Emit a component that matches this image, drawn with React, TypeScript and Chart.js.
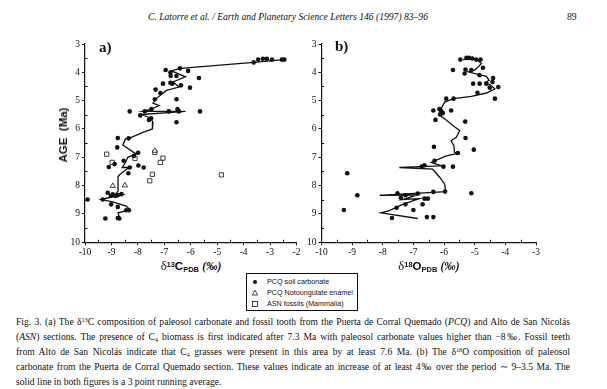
import React, { useEffect, useRef } from "react";
import { Chart, registerables } from "chart.js";

Chart.register(...registerables);

// ---------- Panel a: delta13C ----------
const C13_SOIL_X = [-3.62, -3.45, -3.27, -3.12, -2.93, -2.55, -2.46, -6.95, -6.77, -6.41, -6.10, -6.76, -6.54, -6.77, -6.70, -6.37, -7.05, -5.69, -6.03, -7.33, -7.15, -7.36, -6.54, -7.49, -8.31, -7.74, -6.83, -6.50, -6.45, -5.65, -7.91, -7.58, -7.50, -6.54, -8.76, -8.35, -8.78, -7.99, -8.15, -9.10, -8.88, -7.98, -7.78, -8.31, -8.36, -8.54, -9.14, -8.95, -8.76, -8.62, -9.02, -8.85, -9.90, -9.33, -9.01, -8.76, -8.44, -8.34, -9.23, -8.76, -8.70];
const C13_SOIL_AGE = [3.65, 3.55, 3.52, 3.52, 3.55, 3.55, 3.55, 3.92, 4.01, 3.86, 3.95, 4.13, 4.13, 4.37, 4.40, 4.46, 4.40, 4.20, 4.54, 4.61, 4.73, 4.95, 4.95, 5.30, 5.38, 5.38, 5.38, 5.30, 5.38, 5.38, 5.52, 5.68, 5.62, 5.76, 6.32, 6.33, 6.65, 6.84, 6.95, 7.34, 7.24, 7.29, 7.36, 7.36, 7.56, 7.12, 8.25, 8.31, 8.34, 8.30, 8.36, 8.36, 8.49, 8.49, 8.66, 8.75, 8.87, 8.87, 9.16, 9.14, 9.16];

const C13_ENAMEL_X = [-8.95, -8.49, -7.36];
const C13_ENAMEL_AGE = [8.01, 7.99, 6.77];

const C13_ASN_X = [-9.18, -8.97, -8.11, -7.36, -7.05, -7.15, -7.45, -7.55, -4.84];
const C13_ASN_AGE = [6.89, 7.18, 7.04, 6.83, 7.03, 7.18, 7.60, 7.83, 7.62];

const C13_AVG_X = [-2.48, -3.62, -6.39, -6.73, -6.20, -6.67, -6.44, -6.92, -7.28, -7.43, -7.20, -7.55, -7.81, -6.20, -7.87, -7.52, -7.43, -7.45, -7.81, -8.31, -8.47, -8.57, -8.06, -8.38, -8.47, -8.59, -8.29, -8.44, -8.67, -8.75, -8.75, -8.82, -8.57, -9.39, -8.95, -8.44, -8.29, -8.75, -8.69];
const C13_AVG_AGE = [3.55, 3.65, 3.86, 3.95, 4.16, 4.34, 4.52, 4.64, 4.91, 5.09, 5.17, 5.32, 5.38, 5.38, 5.49, 5.61, 5.76, 6.00, 6.12, 6.32, 6.35, 6.57, 6.89, 7.00, 7.18, 7.36, 7.36, 7.43, 7.60, 7.68, 8.19, 8.28, 8.31, 8.49, 8.57, 8.72, 8.86, 8.96, 9.14];

// ---------- Panel b: delta18O ----------
const O18_SOIL_X = [-5.47, -5.27, -5.19, -5.08, -4.95, -4.81, -5.71, -5.30, -5.11, -4.73, -5.33, -4.84, -4.40, -4.42, -5.05, -4.84, -4.62, -4.51, -4.23, -4.91, -4.34, -5.93, -5.69, -6.35, -6.15, -6.09, -6.04, -6.13, -5.77, -6.28, -5.31, -5.30, -6.33, -5.03, -5.55, -6.31, -6.64, -6.73, -6.02, -5.71, -9.16, -6.35, -5.97, -5.11, -8.83, -7.52, -7.26, -6.86, -7.41, -6.64, -6.53, -6.70, -7.26, -7.55, -9.27, -7.00, -7.70, -6.56, -6.35];
const O18_SOIL_AGE = [3.55, 3.49, 3.49, 3.51, 3.55, 3.55, 3.92, 3.90, 3.92, 3.84, 4.04, 4.10, 4.20, 4.34, 4.40, 4.40, 4.40, 4.54, 4.52, 4.72, 4.93, 4.93, 4.93, 5.35, 5.30, 5.37, 5.44, 5.49, 5.35, 5.68, 5.74, 6.32, 6.63, 6.73, 6.85, 7.12, 7.28, 7.33, 7.33, 7.33, 7.56, 8.22, 8.21, 8.27, 8.34, 8.27, 8.34, 8.28, 8.43, 8.46, 8.46, 8.66, 8.66, 8.78, 8.86, 8.86, 9.14, 9.11, 9.11];

const O18_AVG_X = [-5.38, -5.08, -4.89, -4.78, -4.89, -5.00, -5.22, -4.62, -4.53, -4.67, -4.51, -4.34, -4.62, -5.11, -5.69, -5.98, -6.13, -6.09, -5.93, -5.71, -5.49, -5.60, -5.77, -5.68, -5.66, -5.55, -5.93, -6.42, -6.09, -7.46, -6.37, -6.13, -5.98, -5.95, -8.10, -6.88, -7.35, -6.81, -7.35, -7.79, -8.06, -6.86];
const O18_AVG_AGE = [3.55, 3.51, 3.59, 3.69, 3.81, 3.92, 3.98, 4.14, 4.28, 4.37, 4.43, 4.58, 4.73, 4.85, 4.93, 5.05, 5.35, 5.56, 5.68, 5.88, 6.06, 6.29, 6.41, 6.59, 6.83, 6.86, 6.95, 7.18, 7.30, 7.36, 7.42, 7.72, 7.95, 8.21, 8.34, 8.33, 8.49, 8.46, 8.66, 8.88, 8.96, 9.16];

const AGE_MIN = 3;
const AGE_MAX = 10;
const C13_MIN = -10;
const C13_MAX = -2;
const O18_MIN = -10;
const O18_MAX = -3;

const LEGEND_LABELS = ["PCQ soil carbonate", "PCQ Notoungulate enamel", "ASN fossils (Mammalia)"];

const pts = (xs: number[], ys: number[]) => xs.map((x, i) => ({ x, y: ys[i] }));

const minorTicks = {
  id: "minorTicks",
  afterDraw(chart: any) {
    const { ctx } = chart;
    const xs = chart.scales.x;
    const ys = chart.scales.y;
    ctx.save();
    ctx.strokeStyle = "#111";
    ctx.lineWidth = 1;
    for (let v = xs.min + 0.5; v < xs.max; v += 1) {
      const px = Math.round(xs.getPixelForValue(v)) + 0.5;
      ctx.beginPath();
      ctx.moveTo(px, ys.bottom);
      ctx.lineTo(px, ys.bottom - 2.5);
      ctx.stroke();
    }
    for (let v = ys.min + 0.5; v < ys.max; v += 1) {
      const py = Math.round(ys.getPixelForValue(v)) + 0.5;
      ctx.beginPath();
      ctx.moveTo(xs.left, py);
      ctx.lineTo(xs.left + 2.5, py);
      ctx.stroke();
    }
    ctx.restore();
  },
};

const tickFont = { family: "'Liberation Serif', serif", size: 9.5 };

function makeOptions(xmin: number, xmax: number, yWidth: number, padRight: number) {
  return {
    animation: false,
    responsive: false,
    maintainAspectRatio: false,
    layout: { padding: { left: 0, top: 10, right: padRight, bottom: 0 } },
    plugins: { legend: { display: false }, tooltip: { enabled: false }, title: { display: false } },
    scales: {
      x: {
        type: "linear",
        min: xmin,
        max: xmax,
        afterFit: (s: any) => { s.height = 15.7; },
        ticks: { stepSize: 1, color: "#111", font: tickFont, padding: 1, maxRotation: 0, autoSkip: false },
        grid: { display: true, drawOnChartArea: false, drawTicks: true, tickLength: 3, color: "#111", lineWidth: 1 },
        border: { display: true, color: "#111", width: 1.2 },
      },
      y: {
        type: "linear",
        reverse: true,
        min: AGE_MIN,
        max: AGE_MAX,
        afterFit: (s: any) => { s.width = yWidth; },
        ticks: { stepSize: 1, color: "#111", font: tickFont, padding: 2, autoSkip: false },
        grid: { display: true, drawOnChartArea: false, drawTicks: true, tickLength: 3, color: "#111", lineWidth: 1 },
        border: { display: true, color: "#111", width: 1.2 },
      },
    },
  };
}

function ChartA() {
  const ref = useRef<HTMLCanvasElement>(null);
  useEffect(() => {
    const chart = new Chart(ref.current!, {
      type: "scatter",
      data: {
        datasets: [
          { label: "avg", data: pts(C13_AVG_X, C13_AVG_AGE), showLine: true, borderColor: "#111", borderWidth: 1.3, pointRadius: 0, fill: false, tension: 0 },
          { label: LEGEND_LABELS[0], data: pts(C13_SOIL_X, C13_SOIL_AGE), pointStyle: "circle", pointRadius: 2.3, backgroundColor: "#111", borderColor: "#111", borderWidth: 0 },
          { label: LEGEND_LABELS[1], data: pts(C13_ENAMEL_X, C13_ENAMEL_AGE), pointStyle: "triangle", pointRadius: 3, backgroundColor: "#fff", borderColor: "#111", borderWidth: 0.8 },
          { label: LEGEND_LABELS[2], data: pts(C13_ASN_X, C13_ASN_AGE), pointStyle: "rect", pointRadius: 3, backgroundColor: "#fff", borderColor: "#111", borderWidth: 0.8 },
        ],
      },
      options: makeOptions(C13_MIN, C13_MAX, 35, 7.5) as any,
      plugins: [minorTicks],
    });
    return () => chart.destroy();
  }, []);
  return <canvas ref={ref} width={254} height={224} style={{ position: "absolute", left: 50, top: 34, width: 254, height: 224 }} />;
}

function ChartB() {
  const ref = useRef<HTMLCanvasElement>(null);
  useEffect(() => {
    const chart = new Chart(ref.current!, {
      type: "scatter",
      data: {
        datasets: [
          { label: "avg", data: pts(O18_AVG_X, O18_AVG_AGE), showLine: true, borderColor: "#111", borderWidth: 1.3, pointRadius: 0, fill: false, tension: 0 },
          { label: LEGEND_LABELS[0], data: pts(O18_SOIL_X, O18_SOIL_AGE), pointStyle: "circle", pointRadius: 2.3, backgroundColor: "#111", borderColor: "#111", borderWidth: 0 },
        ],
      },
      options: makeOptions(O18_MIN, O18_MAX, 34.5, 7) as any,
      plugins: [minorTicks],
    });
    return () => chart.destroy();
  }, []);
  return <canvas ref={ref} width={256} height={224} style={{ position: "absolute", left: 287, top: 34, width: 256, height: 224 }} />;
}

const serif = "'Liberation Serif', 'Times New Roman', serif";
const sans = "'Liberation Sans', Arial, sans-serif";
const supS: React.CSSProperties = { fontSize: "0.65em", verticalAlign: "0.45em", lineHeight: 0 };
const subS: React.CSSProperties = { fontSize: "0.65em", verticalAlign: "-0.25em", lineHeight: 0 };

const capLine = (last: boolean): React.CSSProperties => ({
  position: "absolute",
  left: 16,
  width: 554,
  height: 15,
  lineHeight: "15px",
  whiteSpace: "nowrap",
  textAlign: last ? "left" : "justify",
  textAlignLast: last ? "left" : "justify",
  fontFamily: serif,
  fontSize: 9.6,
  color: "#111",
});

function Legend() {
  const row = (top: number): React.CSSProperties => ({ position: "absolute", left: 0, top, height: 12, width: 112 });
  const txt: React.CSSProperties = { position: "absolute", left: 20, top: 0, fontFamily: sans, fontSize: 7.2, lineHeight: "12px", whiteSpace: "nowrap", color: "#111" };
  return (
    <div style={{ position: "absolute", left: 246, top: 273, width: 112, height: 38, border: "1px solid #111", boxSizing: "border-box", background: "#fff" }}>
      <div style={row(2)}>
        <svg width="10" height="12" style={{ position: "absolute", left: 3, top: 0 }}><circle cx="5" cy="6" r="2" fill="#111" /></svg>
        <span style={txt}>{LEGEND_LABELS[0]}</span>
      </div>
      <div style={row(13)}>
        <svg width="10" height="12" style={{ position: "absolute", left: 3, top: 0 }}><polygon points="5,3.2 7.7,8 2.3,8" fill="#fff" stroke="#111" strokeWidth="0.8" /></svg>
        <span style={txt}>{LEGEND_LABELS[1]}</span>
      </div>
      <div style={row(24)}>
        <svg width="10" height="12" style={{ position: "absolute", left: 3, top: 0 }}><rect x="2.5" y="3.5" width="5" height="5" fill="#fff" stroke="#111" strokeWidth="0.8" /></svg>
        <span style={txt}>{LEGEND_LABELS[2]}</span>
      </div>
    </div>
  );
}

export default function App() {
  return (
    <div style={{ position: "absolute", left: 0, top: 0, width: 607, height: 389, background: "#fff", overflow: "hidden", color: "#111" }}>
      <div style={{ position: "absolute", left: 148, top: 10, whiteSpace: "nowrap", fontFamily: serif, fontStyle: "italic", fontSize: 9.6, lineHeight: "14px" }}>
        C. Latorre et al. / Earth and Planetary Science Letters 146 (1997) 83–96
      </div>
      <div style={{ position: "absolute", left: 567, top: 10, fontFamily: serif, fontSize: 9.6, lineHeight: "14px" }}>89</div>

      <ChartA />
      <ChartB />

      <div style={{ position: "absolute", left: 99, top: 38, fontFamily: serif, fontWeight: "bold", fontSize: 15, lineHeight: "18px" }}>a)</div>
      <div style={{ position: "absolute", left: 335, top: 37, fontFamily: serif, fontWeight: "bold", fontSize: 15, lineHeight: "18px" }}>b)</div>

      <div style={{ position: "absolute", left: 63, top: 135, transform: "translate(-50%, -50%) rotate(-90deg)", whiteSpace: "pre", fontFamily: sans, fontWeight: "bold", fontSize: 11.5, lineHeight: "14px" }}>
        AGE  (Ma)
      </div>

      <div style={{ position: "absolute", left: 191, top: 266, transform: "translate(-50%, -50%)", whiteSpace: "nowrap", fontFamily: sans, fontWeight: "bold", fontSize: 11.5, lineHeight: "14px" }}>
        <span style={{ fontFamily: serif, fontWeight: "normal", fontSize: 12.5 }}>δ</span><span style={supS}>13</span>C<span style={subS}>PDB</span> <span style={{ fontFamily: serif, fontWeight: "bold", fontStyle: "italic" }}>(‰)</span>
      </div>
      <div style={{ position: "absolute", left: 429, top: 266, transform: "translate(-50%, -50%)", whiteSpace: "nowrap", fontFamily: sans, fontWeight: "bold", fontSize: 11.5, lineHeight: "14px" }}>
        <span style={{ fontFamily: serif, fontWeight: "normal", fontSize: 12.5 }}>δ</span><span style={supS}>18</span>O<span style={subS}>PDB</span> <span style={{ fontFamily: serif, fontWeight: "bold", fontStyle: "italic" }}>(‰)</span>
      </div>

      <Legend />

      <div style={{ ...capLine(false), top: 314 }}>
        Fig. 3. (a) The δ<span style={supS}>13</span>C composition of paleosol carbonate and fossil tooth from the Puerta de Corral Quemado (<i>PCQ</i>) and Alto de San Nicolás
      </div>
      <div style={{ ...capLine(false), top: 329 }}>
        (<i>ASN</i>) sections. The presence of C<span style={subS}>4</span> biomass is first indicated after 7.3 Ma with paleosol carbonate values higher than −8‰. Fossil teeth
      </div>
      <div style={{ ...capLine(false), top: 344 }}>
        from Alto de San Nicolás indicate that C<span style={subS}>4</span> grasses were present in this area by at least 7.6 Ma. (b) The δ<span style={supS}>18</span>O composition of paleosol
      </div>
      <div style={{ ...capLine(false), top: 359 }}>
        carbonate from the Puerta de Corral Quemado section. These values indicate an increase of at least 4‰ over the period ∼ 9–3.5 Ma. The
      </div>
      <div style={{ ...capLine(true), top: 374 }}>
        solid line in both figures is a 3 point running average.
      </div>
    </div>
  );
}
